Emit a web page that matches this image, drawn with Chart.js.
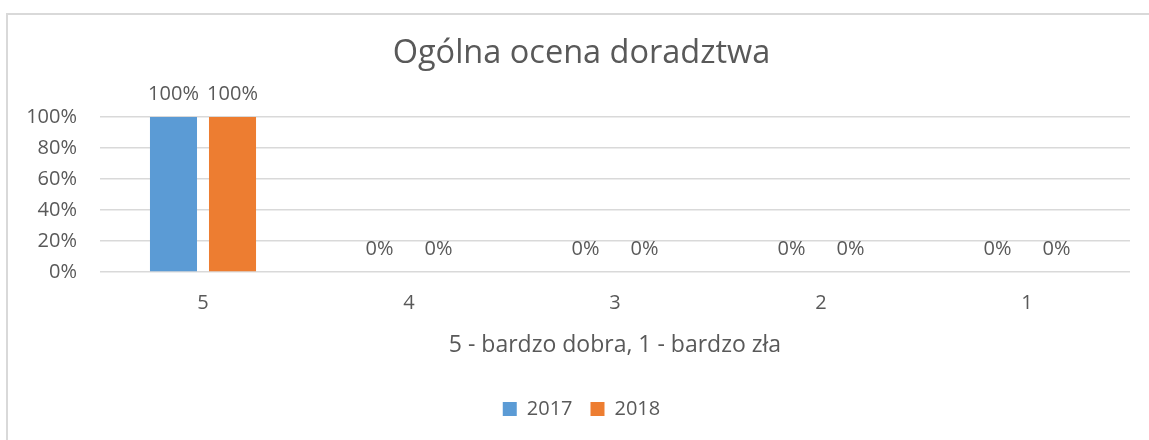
<!DOCTYPE html>
<html>
<head>
<meta charset="utf-8">
<script src="https://cdn.jsdelivr.net/npm/chart.js@4/dist/chart.umd.min.js"></script>
<style>
  html, body { margin: 0; padding: 0; background: #fff; overflow: hidden; }
  canvas { display: block; }
</style>
</head>
<body>
<canvas id="chart" width="1149" height="440"></canvas>
<script>
const categories = ["5", "4", "3", "2", "1"];
const values2017 = [100, 0, 0, 0, 0];
const values2018 = [100, 0, 0, 0, 0];
const seriesNames = ["2017", "2018"];
const yTicks = [0, 20, 40, 60, 80, 100];

const textColor = "#595959";
const fontFamily = "'Open Sans', sans-serif";

// gray frame around the chart, right and bottom edges fall outside the picture
const framePlugin = {
  id: "frame",
  beforeDraw(chart) {
    const ctx = chart.ctx;
    ctx.save();
    ctx.fillStyle = "#fff";
    ctx.fillRect(0, 0, chart.width, chart.height);
    ctx.strokeStyle = "#d9d9d9";
    ctx.lineWidth = 2;
    ctx.beginPath();
    ctx.moveTo(7, 460);
    ctx.lineTo(7, 14);
    ctx.lineTo(1160, 14);
    ctx.stroke();
    ctx.restore();
  },
};

// value labels above each bar
const labelPlugin = {
  id: "barLabels",
  afterDatasetsDraw(chart) {
    const ctx = chart.ctx;
    ctx.save();
    ctx.font = "20px " + fontFamily;
    ctx.fillStyle = textColor;
    ctx.textAlign = "center";
    ctx.textBaseline = "alphabetic";
    chart.data.datasets.forEach((ds, i) => {
      chart.getDatasetMeta(i).data.forEach((bar, j) => {
        ctx.fillText(ds.data[j] + "%", bar.x, bar.y - 17);
      });
    });
    ctx.restore();
  },
};

new Chart(document.getElementById("chart"), {
  type: "bar",
  data: {
    labels: categories,
    datasets: [
      {
        label: seriesNames[0],
        data: values2017,
        backgroundColor: "#5B9BD5",
        borderWidth: 0,
        categoryPercentage: 0.573,
        barPercentage: 0.797,
      },
      {
        label: seriesNames[1],
        data: values2018,
        backgroundColor: "#ED7D31",
        borderWidth: 0,
        categoryPercentage: 0.573,
        barPercentage: 0.797,
      },
    ],
  },
  options: {
    responsive: false,
    devicePixelRatio: 1,
    animation: false,
    layout: { padding: { left: 14, right: 0, top: 0, bottom: 11 } },
    scales: {
      x: {
        afterFit: (scale) => { scale.height = 109; },
        grid: { display: false, drawTicks: false },
        border: { display: false },
        ticks: { color: textColor, font: { family: fontFamily, size: 20 }, padding: 19 },
        title: {
          display: true,
          text: "5 - bardzo dobra, 1 - bardzo zła",
          color: textColor,
          font: { family: fontFamily, size: 23 },
          padding: { top: 17, bottom: 22 },
        },
      },
      y: {
        min: 0,
        max: 100,
        afterFit: (scale) => { scale.width = 86; },
        afterBuildTicks: (scale) => { scale.ticks = yTicks.map((v) => ({ value: v })); },
        grid: { color: "#d9d9d9", lineWidth: 1.5, drawTicks: false },
        border: { display: false },
        ticks: {
          autoSkip: false,
          color: textColor,
          font: { family: fontFamily, size: 20 },
          padding: 23,
          callback: (value) => value + "%",
        },
      },
      // empty right axis, only keeps the plot off the right edge so the title stays centred on the whole chart
      yRight: {
        type: "linear",
        position: "right",
        display: true,
        afterFit: (scale) => { scale.width = 19; },
        grid: { display: false, drawTicks: false },
        border: { display: false },
        ticks: { display: false },
      },
    },
    plugins: {
      title: {
        display: true,
        text: "Ogólna ocena doradztwa",
        color: textColor,
        font: { family: fontFamily, size: 32.5, weight: "normal" },
        padding: { top: 34, bottom: 44 },
      },
      legend: {
        position: "bottom",
        labels: {
          color: textColor,
          font: { family: fontFamily, size: 20 },
          boxWidth: 14,
          boxHeight: 14,
          padding: 18,
        },
      },
      tooltip: { enabled: false },
    },
  },
  plugins: [framePlugin, labelPlugin],
});
</script>
</body>
</html>
